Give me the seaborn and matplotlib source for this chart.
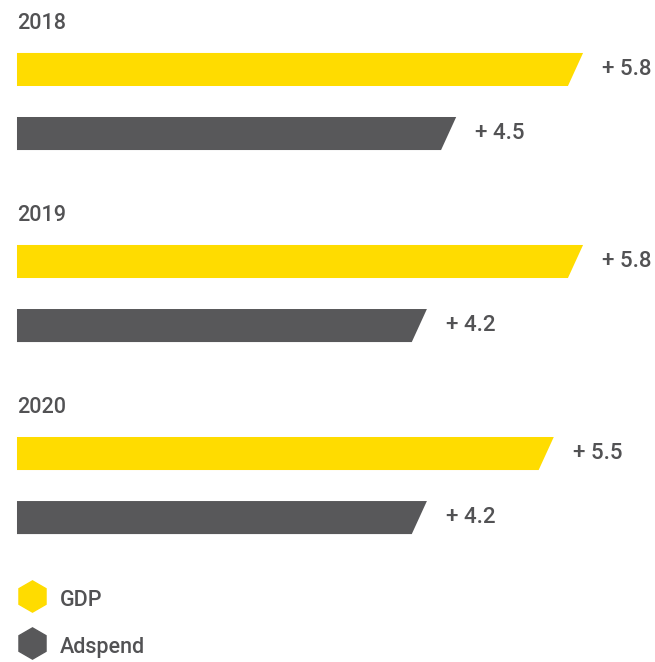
import matplotlib
matplotlib.use("Agg")
import matplotlib.pyplot as plt
from matplotlib.patches import Polygon
from matplotlib.lines import Line2D
import pandas as pd
import seaborn as sns

# Growth figures (%) by year
years = ["2018", "2019", "2020"]
gdp = [5.8, 5.8, 5.5]
adspend = [4.5, 4.2, 4.2]
series_names = ["GDP", "Adspend"]

YELLOW = "#FFDC00"
GREY = "#58585A"
TEXT = "#525254"

df = pd.DataFrame({
    "year": years * 2,
    "series": [series_names[0]] * len(years) + [series_names[1]] * len(years),
    "value": gdp + adspend,
})

sns.set_style("white")
plt.rcParams["font.family"] = ["Roboto", "DejaVu Sans"]
plt.rcParams["font.weight"] = "medium"

fig = plt.figure(figsize=(6.55, 6.62), dpi=100)
ax = fig.add_axes([0, 0, 1, 1])

sns.barplot(
    data=df, x="value", y="year", hue="series", orient="h",
    palette=[YELLOW, GREY], saturation=1, width=0.667, gap=0.484,
    legend=False, ax=ax,
)

ax.set_xlim(-0.174, 6.537)
ax.set_ylim(2.919, -0.5286)
ax.axis("off")

# Value labels at the end of each bar
for cont in ax.containers:
    ax.bar_label(cont, labels=[f"+ {v:.1f}" for v in cont.datavalues],
                 padding=13.5, fontsize=16, color=TEXT, fontweight="medium")

# Give every bar a slanted right end
slant = 0.155
for rect in list(ax.patches):
    x0, y0 = rect.get_x(), rect.get_y()
    w, h = rect.get_width(), rect.get_height()
    top, bot = min(y0, y0 + h), max(y0, y0 + h)
    x1 = x0 + w
    poly = Polygon([(x0, top), (x1, top), (x1 - slant, bot), (x0, bot)],
                   closed=True, facecolor=rect.get_facecolor(),
                   edgecolor="none", linewidth=0)
    rect.remove()
    ax.add_patch(poly)

# Year headings above each group
for i, yr in enumerate(years):
    ax.text(0, i - 0.405, yr, va="center", ha="left", fontsize=15.5,
            color=TEXT, fontweight="medium")

handles = [
    Line2D([], [], marker="h", ls="none", markersize=22.5,
           markerfacecolor=c, markeredgecolor=c)
    for c in (YELLOW, GREY)
]
ax.legend(handles, series_names, loc="upper left",
          bbox_to_anchor=(16.5 / 655, 1 - 585.5 / 662),
          bbox_transform=fig.transFigure, frameon=False,
          prop={"size": 15.5, "weight": "medium"},
          handlelength=1.4, handleheight=1.5, handletextpad=0.6,
          labelspacing=0.98, borderpad=0, borderaxespad=0,
          labelcolor=TEXT)

fig.savefig("out.png", dpi=100)
